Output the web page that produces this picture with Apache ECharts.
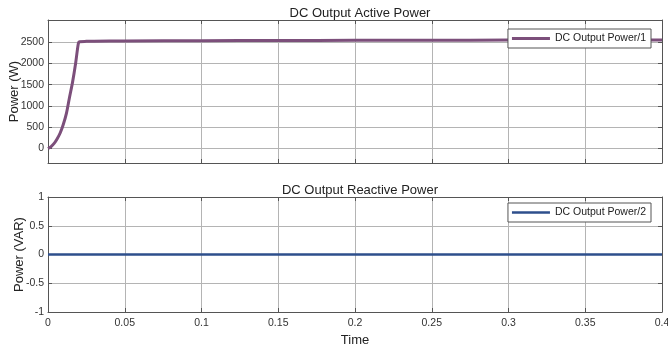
<!DOCTYPE html>
<html>
<head>
<meta charset="utf-8">
<script src="https://cdn.jsdelivr.net/npm/echarts@6/dist/echarts.min.js"></script>
<style>
  html, body { margin: 0; padding: 0; background: #fff; }
  #chart { width: 668px; height: 349px; }
</style>
</head>
<body>
<div id="chart"></div>
<script>
// time samples (s) and DC active power (W)
var timeP = [0, 0.002, 0.004, 0.006, 0.008, 0.010, 0.012, 0.014, 0.016, 0.018, 0.0198, 0.0206, 0.025, 0.03, 0.05, 0.1, 0.15, 0.2, 0.25, 0.3, 0.35, 0.4]
var activeP = [0, 45, 120, 230, 370, 570, 825, 1200, 1560, 2005, 2475, 2510, 2518, 2522, 2528, 2534, 2538, 2542, 2545, 2548, 2550, 2552]
// reactive power stays at zero
var timeQ = [0, 0.1, 0.2, 0.3, 0.4]
var reactiveQ = [0, 0, 0, 0, 0]
var activeTicks = [0, 500, 1000, 1500, 2000, 2500]
var reactiveTicks = [-1, -0.5, 0, 0.5, 1]

var font = 'Liberation Sans, Arial, sans-serif'
var chart = echarts.init(document.getElementById('chart'))

function pairs (xs, ys) {
  return xs.map(function (x, i) { return [x, ys[i]] })
}

var gridLine = { show: true, lineStyle: { color: '#b4b4b4', width: 1 } }
var tickIn = { show: true, inside: true, length: 4, lineStyle: { color: '#555' } }
var edge = { show: true, onZero: false, lineStyle: { color: '#555', width: 1 } }
var lbl = { color: '#333', fontSize: 10.5, fontFamily: font, formatter: function (v) { return String(v) } }

function xAxisCfg (grid, labels, pos) {
  return {
    type: 'value', gridIndex: grid, position: pos, min: 0, max: 0.4, interval: 0.05,
    axisLine: edge, axisTick: tickIn,
    splitLine: pos === 'bottom' ? gridLine : { show: false },
    axisLabel: labels ? Object.assign({ margin: 6 }, lbl) : { show: false },
    name: labels ? 'Time' : '', nameLocation: 'middle', nameGap: 22, nameMoveOverlap: false,
    nameTextStyle: { fontSize: 13, color: '#222', fontFamily: font }
  }
}

function yAxisCfg (grid, min, max, ticks, name, gap, pos) {
  var left = pos === 'left'
  return {
    type: 'value', gridIndex: grid, position: pos, min: min, max: max,
    axisLine: edge,
    axisTick: Object.assign({ customValues: ticks }, tickIn),
    splitLine: left ? gridLine : { show: false },
    axisLabel: left ? Object.assign({ customValues: ticks, margin: 4 }, lbl) : { show: false },
    name: left ? name : '', nameLocation: 'middle', nameGap: gap, nameMoveOverlap: false,
    nameTextStyle: { fontSize: 13, color: '#222', fontFamily: font }
  }
}

var option = {
  animation: false,
  backgroundColor: '#fff',
  title: [
    { text: 'DC Output Active Power', left: 355, textAlign: 'center', top: 2,
      textStyle: { fontSize: 13, fontWeight: 'normal', color: '#222', fontFamily: font } },
    { text: 'DC Output Reactive Power', left: 355, textAlign: 'center', top: 179,
      textStyle: { fontSize: 13, fontWeight: 'normal', color: '#222', fontFamily: font } }
  ],
  grid: [
    { left: 48, right: 6, top: 20, height: 143, containLabel: false, outerBoundsMode: 'none' },
    { left: 48, right: 6, top: 197, height: 115, containLabel: false, outerBoundsMode: 'none' }
  ],
  legend: [
    { data: ['DC Output Power/1'], right: 17, top: 29, padding: [4, 5, 4, 4],
      itemWidth: 38, itemHeight: 3, icon: 'rect', itemGap: 5,
      backgroundColor: '#fff', borderColor: '#555', borderWidth: 1, borderRadius: 0,
      textStyle: { fontSize: 10.5, color: '#222', fontFamily: font } },
    { data: ['DC Output Power/2'], right: 17, top: 203, padding: [4, 5, 4, 4],
      itemWidth: 38, itemHeight: 2.5, icon: 'rect', itemGap: 5,
      backgroundColor: '#fff', borderColor: '#555', borderWidth: 1, borderRadius: 0,
      textStyle: { fontSize: 10.5, color: '#222', fontFamily: font } }
  ],
  xAxis: [
    xAxisCfg(0, false, 'bottom'),
    xAxisCfg(0, false, 'top'),
    xAxisCfg(1, true, 'bottom'),
    xAxisCfg(1, false, 'top')
  ],
  yAxis: [
    yAxisCfg(0, -340, 3020, activeTicks, 'Power (W)', 27, 'left'),
    yAxisCfg(0, -340, 3020, activeTicks, '', 0, 'right'),
    yAxisCfg(1, -1, 1, reactiveTicks, 'Power (VAR)', 22, 'left'),
    yAxisCfg(1, -1, 1, reactiveTicks, '', 0, 'right')
  ],
  series: [
    {
      name: 'DC Output Power/1', type: 'line', xAxisIndex: 0, yAxisIndex: 0,
      showSymbol: false, smooth: 0.3,
      lineStyle: { color: '#7c4f7b', width: 3 },
      itemStyle: { color: '#7c4f7b' },
      data: pairs(timeP, activeP)
    },
    {
      name: 'DC Output Power/2', type: 'line', xAxisIndex: 2, yAxisIndex: 2,
      showSymbol: false,
      lineStyle: { color: '#2e4f8c', width: 2.5 },
      itemStyle: { color: '#2e4f8c' },
      data: pairs(timeQ, reactiveQ)
    }
  ]
}

chart.setOption(option)
</script>
</body>
</html>
